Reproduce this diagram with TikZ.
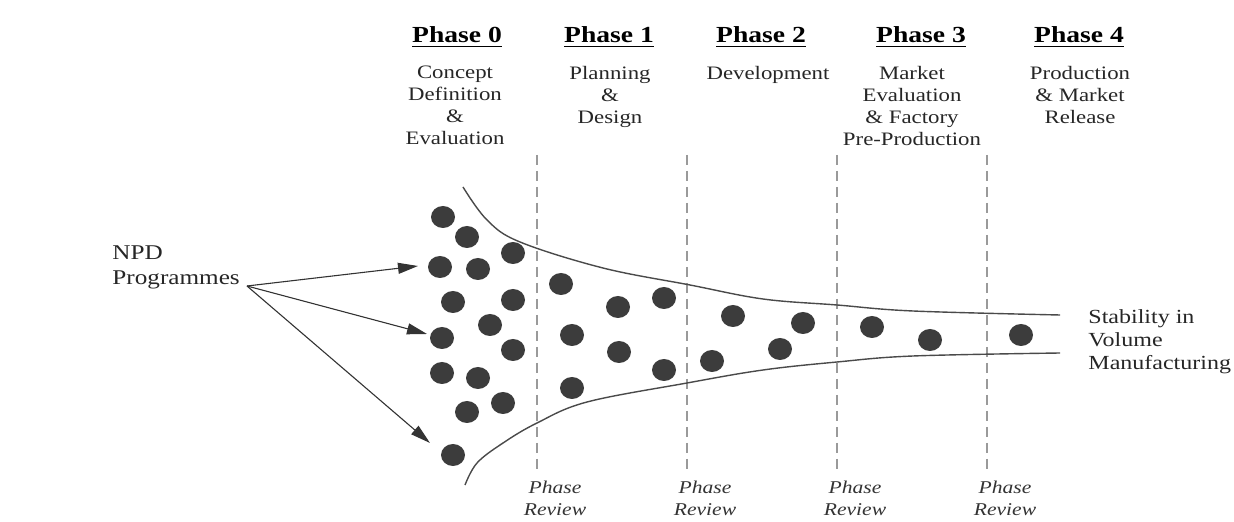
\documentclass[tikz,border=0pt]{standalone}
\usepackage{fontspec}
\setmainfont{Liberation Serif}[FakeStretch=1.2]
\usetikzlibrary{arrows.meta}
\definecolor{dotgray}{HTML}{3C3C3C}
\definecolor{linegray}{HTML}{4A4A4A}
\definecolor{gategray}{HTML}{9A9A9A}
\tikzset{
  phasehead/.style={font=\fontsize{11.5}{13}\selectfont\bfseries, inner sep=0pt, anchor=base},
  phasetext/.style={font=\fontsize{9.5}{11}\selectfont, align=center, inner sep=0pt, anchor=north, text=black!85},
  review/.style={font=\fontsize{9}{11}\selectfont\itshape, align=center, inner sep=0pt, anchor=north, text=black!80},
  sidetext/.style={font=\fontsize{10}{11.5}\selectfont, align=left, inner sep=0pt, anchor=north west, text=black!85},
  gate/.style={gategray, line width=0.6pt, dash pattern=on 5pt off 3pt},
  funnel/.style={linegray, line width=0.7pt},
  feed/.style={black!80, line width=0.55pt, -{Triangle[length=10pt,width=5.5pt]}},
  dot/.style={fill=dotgray}
}
\begin{document}
\begin{tikzpicture}[x=0.5pt,y=-0.5pt]
\useasboundingbox (0,0) rectangle (1234,522);
% phase headings
\node[phasehead] (ph0) at (457,43) {\underline{Phase 0}};
\node[phasehead] (ph1) at (609,43) {\underline{Phase 1}};
\node[phasehead] (ph2) at (761,43) {\underline{Phase 2}};
\node[phasehead] (ph3) at (921,43) {\underline{Phase 3}};
\node[phasehead] (ph4) at (1079,43) {\underline{Phase 4}};
% phase contents
\node[phasetext] (tx0) at (455,66) {Concept\\Definition\\\&\\Evaluation};
\node[phasetext] (tx1) at (610,66) {Planning\\\&\\Design};
\node[phasetext] (tx2) at (768,66) {Development};
\node[phasetext] (tx3) at (912,66) {Market\\Evaluation\\\& Factory\\Pre-Production};
\node[phasetext] (tx4) at (1080,66) {Production\\\& Market\\Release};
% phase reviews
\foreach \x/\n in {537/a,687/b,837/c,987/d}{
  \draw[gate] (\x,155) coordinate (gtop\n) -- (\x,470) coordinate (gbot\n);
  \node[review] (rev\n) at (\x+18,481) {Phase\\Review};
}
% funnel
\draw[funnel] plot[smooth,tension=0.6] coordinates {(463,187) (487,220) (520,242) (603,268) (690,285) (763,299) (837,305) (913,311) (1060,315)};
\draw[funnel] plot[smooth,tension=0.6] coordinates {(465,485) (477,463) (503,443) (537,423) (587,402) (687,383) (763,370) (837,362) (913,356) (1060,353)};
% programmes
\foreach \x/\y in {443/217,467/237,513/253,440/267,478/269,453/302,513/300,490/325,442/338,513/350,442/373,478/378,467/412,503/403,453/455,
  561/284,618/307,664/298,572/335,619/352,572/388,664/370,712/361,733/316,780/349,803/323,872/327,930/340,1021/335}
  \fill[dot] (\x,\y) ellipse [x radius=12, y radius=11];
% left label and arrows
\node[sidetext, font=\fontsize{10.5}{12.5}\selectfont] (npd) at (112,245) {NPD\\Programmes};
\coordinate (src) at (247,286);
\coordinate (tipa) at (418,266);
\coordinate (tipb) at (427,334);
\coordinate (tipc) at (430,443);
\draw[feed] (src) -- (tipa);
\draw[feed] (src) -- (tipb);
\draw[feed] (src) -- (tipc);
% right label
\node[sidetext] (stab) at (1088,309) {Stability in\\Volume\\Manufacturing};
\end{tikzpicture}
\end{document}
